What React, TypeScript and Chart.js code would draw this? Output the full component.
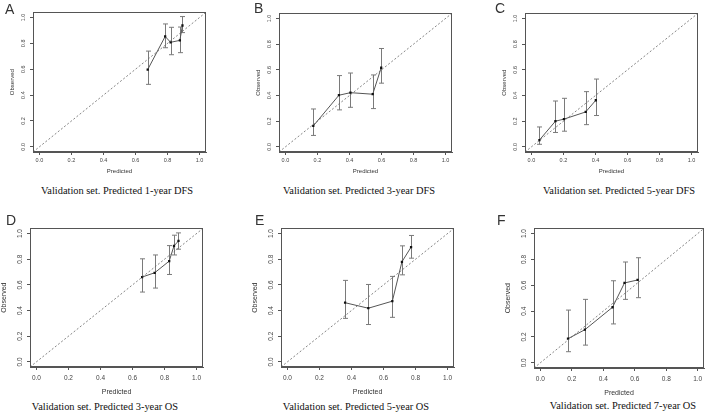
import React, { useEffect, useRef } from "react";
import { Chart, registerables } from "chart.js";

Chart.register(...registerables);

// ---------- data ----------
const TICK_VALUES = [0, 0.2, 0.4, 0.6, 0.8, 1.0];
const AXIS_MIN = -0.04;
const AXIS_MAX = 1.04;

const predA = [0.676, 0.785, 0.819, 0.877, 0.893];
const obsA = [0.597, 0.853, 0.808, 0.823, 0.938];
const lowA = [0.483, 0.766, 0.712, 0.728, 0.883];
const highA = [0.740, 0.950, 0.924, 0.926, 1.007];

const predB = [0.174, 0.334, 0.406, 0.545, 0.598];
const obsB = [0.163, 0.402, 0.422, 0.410, 0.616];
const lowB = [0.089, 0.288, 0.308, 0.298, 0.496];
const highB = [0.295, 0.555, 0.575, 0.560, 0.766];

const predC = [0.050, 0.150, 0.203, 0.339, 0.402];
const obsC = [0.053, 0.200, 0.216, 0.272, 0.363];
const lowC = [0.020, 0.112, 0.122, 0.173, 0.244];
const highC = [0.155, 0.357, 0.378, 0.430, 0.528];

const predD = [0.660, 0.738, 0.829, 0.859, 0.887];
const obsD = [0.661, 0.694, 0.785, 0.904, 0.942];
const lowD = [0.544, 0.575, 0.681, 0.833, 0.878];
const highD = [0.803, 0.833, 0.906, 0.987, 1.005];

const predE = [0.360, 0.505, 0.655, 0.715, 0.772];
const obsE = [0.461, 0.418, 0.473, 0.780, 0.894];
const lowE = [0.339, 0.291, 0.347, 0.678, 0.808];
const highE = [0.635, 0.603, 0.666, 0.904, 0.985];

const predF = [0.176, 0.283, 0.459, 0.535, 0.618];
const obsF = [0.187, 0.256, 0.430, 0.618, 0.641];
const lowF = [0.086, 0.137, 0.301, 0.491, 0.504];
const highF = [0.408, 0.491, 0.635, 0.780, 0.813];

const panelLetters = ["A", "B", "C", "D", "E", "F"];
const panelTitles = [
  "Validation set. Predicted 1-year DFS",
  "Validation set. Predicted 3-year DFS",
  "Validation set. Predicted 5-year DFS",
  "Validation set. Predicted 3-year OS",
  "Validation set. Predicted 5-year OS",
  "Validation set. Predicted 7-year OS",
];
const xAxisLabel = "Predicted";
const yAxisLabel = "Observed";

// ---------- layout ----------
type Layout = {
  box: [number, number, number, number]; // left, top, right, bottom of plot frame
  letter: [number, number];
  title: [number, number];
  row: number;
};

const LAYOUTS: Layout[] = [
  { box: [33, 9, 207, 152], letter: [5, 2], title: [117, 191], row: 0 },
  { box: [279, 10, 453, 152], letter: [254, 1], title: [359, 191], row: 0 },
  { box: [525, 10, 699, 152], letter: [495, 1], title: [619, 191], row: 0 },
  { box: [30, 225, 204, 367], letter: [6, 213], title: [105, 407], row: 1 },
  { box: [281, 225, 455, 367], letter: [255, 213], title: [356, 407], row: 1 },
  { box: [534, 225, 705, 368], letter: [497, 213], title: [623, 406], row: 1 },
];

const ROW_STYLE = [
  { tickFont: 5.5, titleFont: 6, xTickPad: 1.7, yTickPad: 3, xTitlePad: 7.4, yTitlePad: 7.4, H: 30 },
  { tickFont: 6.5, titleFont: 7, xTickPad: 4, yTickPad: 2.5, xTitlePad: 2.8, yTitlePad: 1.8, H: 32 },
];

const W = 32;
const PT = 3;
const PR = 3;
const SANS = "'Liberation Sans', Arial, sans-serif";

const errorBarPlugin = {
  id: "errbars",
  beforeDatasetsDraw(chart: any, _args: any, opts: any) {
    const { ctx } = chart;
    const x = chart.scales.x;
    const y = chart.scales.y;
    ctx.save();
    ctx.strokeStyle = opts.color;
    ctx.lineWidth = 1;
    const cap = opts.cap;
    opts.pred.forEach((p: number, i: number) => {
      const px = Math.round(x.getPixelForValue(p)) + 0.5;
      const y1 = y.getPixelForValue(opts.low[i]);
      const y2 = y.getPixelForValue(opts.high[i]);
      ctx.beginPath();
      ctx.moveTo(px, y1);
      ctx.lineTo(px, y2);
      ctx.moveTo(px - cap, y1);
      ctx.lineTo(px + cap, y1);
      ctx.moveTo(px - cap, y2);
      ctx.lineTo(px + cap, y2);
      ctx.stroke();
    });
    ctx.restore();
  },
};

const framePlugin = {
  id: "frame",
  afterDraw(chart: any) {
    const { ctx, chartArea } = chart;
    ctx.save();
    ctx.strokeStyle = "#555";
    ctx.lineWidth = 1;
    ctx.strokeRect(
      Math.round(chartArea.left) + 0.5,
      Math.round(chartArea.top) + 0.5,
      Math.round(chartArea.right - chartArea.left) - 1,
      Math.round(chartArea.bottom - chartArea.top) - 1
    );
    ctx.restore();
  },
};

type PanelProps = {
  pred: number[];
  obs: number[];
  low: number[];
  high: number[];
  layout: Layout;
};

function Panel({ pred, obs, low, high, layout }: PanelProps) {
  const ref = useRef<HTMLCanvasElement | null>(null);
  const [l, t, r, b] = layout.box;
  const rs = ROW_STYLE[layout.row];
  const cw = W + (r - l) + PR;
  const ch = PT + (b - t) + rs.H;

  useEffect(() => {
    if (!ref.current) return;
    const pts = pred.map((p, i) => ({ x: p, y: obs[i] }));
    const chart = new Chart(ref.current, {
      type: "scatter",
      data: {
        datasets: [
          {
            data: [
              { x: AXIS_MIN, y: AXIS_MIN },
              { x: AXIS_MAX, y: AXIS_MAX },
            ],
            showLine: true,
            borderColor: "#666",
            borderWidth: 0.8,
            borderDash: [2, 2],
            pointRadius: 0,
          },
          {
            data: pts,
            showLine: true,
            borderColor: "#555",
            borderWidth: 1,
            pointStyle: "rect",
            pointRadius: 1.6,
            pointBackgroundColor: "#111",
            pointBorderColor: "#111",
            pointBorderWidth: 0,
          },
        ],
      },
      options: {
        responsive: false,
        animation: false,
        devicePixelRatio: 1,
        layout: { padding: { top: PT, right: PR, left: 0, bottom: 0 } },
        plugins: {
          legend: { display: false },
          tooltip: { enabled: false },
          errbars: { pred, low, high, color: "#7a7a7a", cap: 2.5 },
        } as any,
        scales: {
          x: {
            type: "linear",
            min: AXIS_MIN,
            max: AXIS_MAX,
            afterBuildTicks: (s: any) => {
              s.ticks = TICK_VALUES.map((v) => ({ value: v }));
            },
            afterFit: (s: any) => {
              s.height = rs.H;
            },
            ticks: {
              callback: (v: any) => Number(v).toFixed(1),
              font: { size: rs.tickFont, family: SANS },
              color: "#444",
              padding: rs.xTickPad,
              minRotation: 0,
              maxRotation: 0,
              autoSkip: false,
            },
            grid: { drawOnChartArea: false, drawTicks: true, tickLength: 3, color: "#555", lineWidth: 1 },
            border: { display: true, color: "#555" },
            title: {
              display: true,
              text: xAxisLabel,
              font: { size: rs.titleFont, family: SANS },
              color: "#333",
              padding: { top: 0, bottom: rs.xTitlePad },
            },
          },
          y: {
            type: "linear",
            min: AXIS_MIN,
            max: AXIS_MAX,
            afterBuildTicks: (s: any) => {
              s.ticks = TICK_VALUES.map((v) => ({ value: v }));
            },
            afterFit: (s: any) => {
              s.width = W;
            },
            ticks: {
              callback: (v: any) => Number(v).toFixed(1),
              font: { size: rs.tickFont, family: SANS },
              color: "#444",
              padding: rs.yTickPad,
              minRotation: 90,
              maxRotation: 90,
              crossAlign: "center",
              autoSkip: false,
            },
            grid: { drawOnChartArea: false, drawTicks: true, tickLength: 3, color: "#555", lineWidth: 1 },
            border: { display: true, color: "#555" },
            title: {
              display: true,
              text: yAxisLabel,
              font: { size: rs.titleFont, family: SANS },
              color: "#333",
              padding: { top: rs.yTitlePad, bottom: 0 },
            },
          },
        },
      } as any,
      plugins: [errorBarPlugin, framePlugin],
    });
    return () => chart.destroy();
  }, []);

  return (
    <canvas
      ref={ref}
      width={cw}
      height={ch}
      style={{ position: "absolute", left: l - W, top: t - PT, width: cw, height: ch }}
    />
  );
}

const SERIES = [
  { pred: predA, obs: obsA, low: lowA, high: highA },
  { pred: predB, obs: obsB, low: lowB, high: highB },
  { pred: predC, obs: obsC, low: lowC, high: highC },
  { pred: predD, obs: obsD, low: lowD, high: highD },
  { pred: predE, obs: obsE, low: lowE, high: highE },
  { pred: predF, obs: obsF, low: lowF, high: highF },
];

export default function App() {
  return (
    <div
      style={{
        position: "absolute",
        left: 0,
        top: 0,
        width: 708,
        height: 414,
        background: "#fff",
        overflow: "hidden",
      }}
    >
      {SERIES.map((s, i) => (
        <Panel key={i} pred={s.pred} obs={s.obs} low={s.low} high={s.high} layout={LAYOUTS[i]} />
      ))}
      {LAYOUTS.map((lay, i) => (
        <div
          key={"l" + i}
          style={{
            position: "absolute",
            left: lay.letter[0],
            top: lay.letter[1],
            fontFamily: SANS,
            fontSize: 14,
            lineHeight: "14px",
            color: "#333",
          }}
        >
          {panelLetters[i]}
        </div>
      ))}
      {LAYOUTS.map((lay, i) => (
        <div
          key={"t" + i}
          style={{
            position: "absolute",
            left: lay.title[0],
            top: lay.title[1],
            transform: "translate(-50%, -50%)",
            fontFamily: "'Liberation Serif', 'Times New Roman', serif",
            fontSize: 10.4,
            lineHeight: "12px",
            whiteSpace: "nowrap",
            color: "#111",
          }}
        >
          {panelTitles[i]}
        </div>
      ))}
    </div>
  );
}
